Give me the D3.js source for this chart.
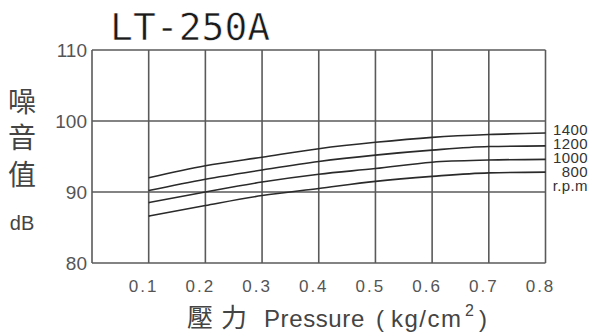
<!DOCTYPE html>
<html>
<head>
<meta charset="utf-8">
<script src="https://cdn.jsdelivr.net/npm/d3@7"></script>
<style>
  body { margin: 0; background: #fff; }
  svg { display: block; }
</style>
</head>
<body>
<svg width="597" height="333"></svg>
<script>
// chart data
const title = "LT-250A"
const pressures = [0.1, 0.2, 0.3, 0.4, 0.5, 0.6, 0.7, 0.8]
const xTicks = [0.1, 0.2, 0.3, 0.4, 0.5, 0.6, 0.7, 0.8]
const xGrid = [0, 0.1, 0.2, 0.3, 0.4, 0.5, 0.6, 0.7, 0.8]
const yTicks = [80, 90, 100, 110]
const rpmLabels = ["1400", "1200", "1000", "800"]
const noise1400 = [92.0, 93.7, 94.9, 96.1, 97.0, 97.7, 98.1, 98.3]
const noise1200 = [90.2, 91.8, 93.1, 94.3, 95.2, 95.9, 96.4, 96.5]
const noise1000 = [88.5, 90.0, 91.4, 92.5, 93.3, 94.2, 94.5, 94.6]
const noise800  = [86.6, 88.1, 89.5, 90.5, 91.5, 92.2, 92.7, 92.8]
const series = [noise1400, noise1200, noise1000, noise800]

const svg = d3.select("svg")
const sans = "Liberation Sans, Arial, sans-serif"
const cjk = "Noto Sans CJK TC, sans-serif"

const x = d3.scaleLinear().domain([0, 0.8]).range([92, 545.5])
const y = d3.scaleLinear().domain([80, 110]).range([263, 50])

// grid
const grid = svg.append("g").attr("stroke", "#5a5a5a").attr("stroke-width", 1.6)
grid.selectAll("line.v")
  .data(xGrid)
  .enter().append("line")
    .attr("class", "v")
    .attr("x1", d => x(d)).attr("x2", d => x(d))
    .attr("y1", y(110)).attr("y2", y(80))
grid.selectAll("line.h")
  .data(yTicks)
  .enter().append("line")
    .attr("class", "h")
    .attr("x1", x(0)).attr("x2", x(0.8))
    .attr("y1", d => y(d)).attr("y2", d => y(d))

// curves
const line = d3.line()
  .x((d, i) => x(pressures[i]))
  .y(d => y(d))
  .curve(d3.curveMonotoneX)

svg.append("g")
  .selectAll("path")
  .data(series)
  .enter().append("path")
    .attr("d", line)
    .attr("fill", "none")
    .attr("stroke", "#2a2a2a")
    .attr("stroke-width", 1.6)

// rpm labels at right
svg.append("g")
  .selectAll("text")
  .data(rpmLabels.concat(["r.p.m"]))
  .enter().append("text")
    .attr("x", 588)
    .attr("y", (d, i) => 134.5 + i * 14)
    .attr("text-anchor", "end")
    .attr("font-family", sans)
    .attr("font-size", 15)
    .attr("letter-spacing", 0.4)
    .attr("fill", "#333")
    .text(d => d)

// y tick labels
svg.append("g")
  .selectAll("text")
  .data(yTicks)
  .enter().append("text")
    .attr("x", 87)
    .attr("y", d => y(d))
    .attr("dy", "0.36em")
    .attr("text-anchor", "end")
    .attr("font-family", sans)
    .attr("font-size", 19)
    .attr("fill", "#555")
    .text(d => d)

// x tick labels
svg.append("g")
  .selectAll("text")
  .data(xTicks)
  .enter().append("text")
    .attr("x", d => x(d) - 5)
    .attr("y", 292)
    .attr("text-anchor", "middle")
    .attr("font-family", sans)
    .attr("font-size", 17)
    .attr("letter-spacing", 2)
    .attr("fill", "#555")
    .text(d => d3.format(".1f")(d))

// title (thin white outline makes the mono glyphs a bit lighter)
svg.append("text")
  .attr("x", 110)
  .attr("y", 40)
  .attr("font-family", "DejaVu Sans Mono, monospace")
  .attr("font-size", 38)
  .attr("fill", "#1a1a1a")
  .attr("stroke", "#fff")
  .attr("stroke-width", 0.6)
  .text(title)

// y axis title, stacked
const yTitle = ["噪", "音", "值"]
svg.append("g")
  .selectAll("text")
  .data(yTitle)
  .enter().append("text")
    .attr("x", 22)
    .attr("y", (d, i) => 101.5 + i * 36.5)
    .attr("dy", "0.36em")
    .attr("text-anchor", "middle")
    .attr("font-family", cjk)
    .attr("font-size", 28)
    .attr("fill", "#444")
    .text(d => d)
svg.append("text")
  .attr("x", 22)
  .attr("y", 230)
  .attr("text-anchor", "middle")
  .attr("font-family", sans)
  .attr("font-size", 20)
  .attr("fill", "#444")
  .text("dB")

// x axis title
const xt = svg.append("text")
  .attr("y", 327)
  .attr("font-family", sans)
  .attr("font-size", 24)
  .attr("fill", "#444")
xt.append("tspan").attr("x", 187).attr("font-family", cjk).attr("font-size", 26)
  .attr("letter-spacing", 8).text("壓力")
xt.append("tspan").attr("x", 264).attr("letter-spacing", 0.6).text("Pressure")
xt.append("tspan").attr("x", 376).text("(")
xt.append("tspan").attr("x", 391).attr("letter-spacing", 1.5).text("kg/cm")
xt.append("tspan").attr("x", 465).attr("dy", -11).attr("font-size", 16).text("2")
xt.append("tspan").attr("x", 479).attr("dy", 11).text(")")
</script>
</body>
</html>
